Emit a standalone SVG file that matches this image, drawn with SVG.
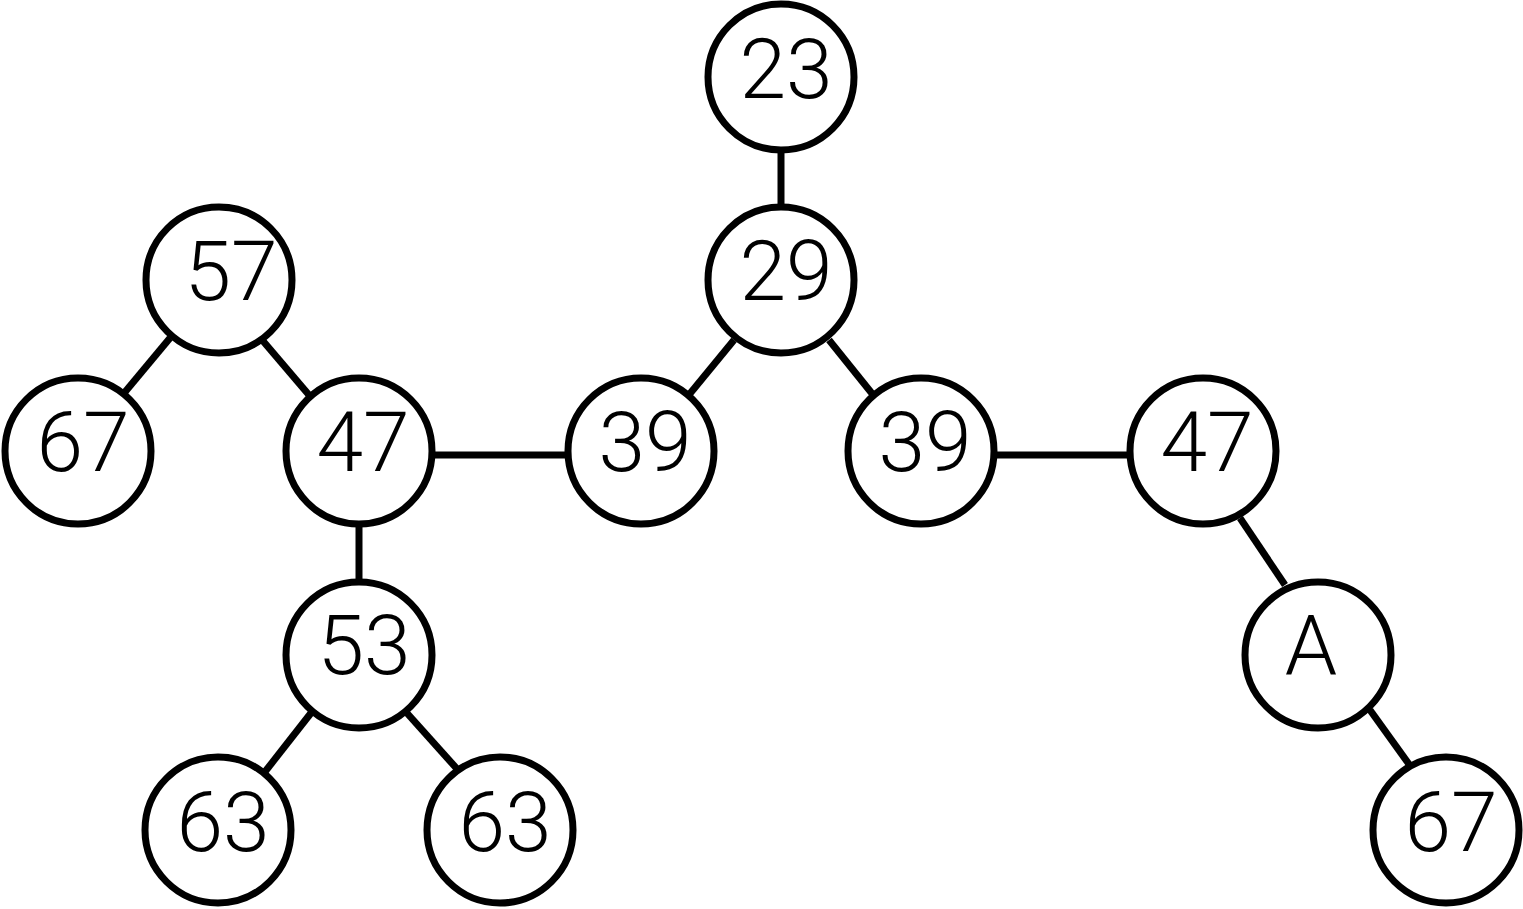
<svg xmlns="http://www.w3.org/2000/svg" width="1523" height="909" viewBox="0 0 1523 909">
<style>
.n circle{fill:#fff;stroke:#000;stroke-width:7}
.n text{font-family:Roboto,"Liberation Sans",sans-serif;font-weight:300;font-size:84px;text-anchor:middle;fill:#000}
#edges line{stroke:#000;stroke-width:7}
</style>
<rect width="1523" height="909" fill="#fff"/>
<g id="edges">
<line x1="781" y1="152" x2="781" y2="205"/>
<line x1="170" y1="338" x2="125" y2="392"/>
<line x1="263" y1="341" x2="309" y2="395"/>
<line x1="435" y1="455" x2="566" y2="455"/>
<line x1="359" y1="526" x2="359" y2="580"/>
<line x1="734" y1="340" x2="688" y2="396"/>
<line x1="829" y1="340" x2="874" y2="396"/>
<line x1="997" y1="455" x2="1129" y2="455"/>
<line x1="1240" y1="518" x2="1285" y2="585"/>
<line x1="311" y1="713" x2="264" y2="773"/>
<line x1="406" y1="712" x2="458" y2="770"/>
<line x1="1370" y1="710" x2="1411" y2="767"/>
</g>
<g id="n23" class="n"><circle cx="781" cy="77" r="73"/><text x="786" y="98">23</text></g>
<g id="n29" class="n"><circle cx="781" cy="280" r="73"/><text x="786" y="300">29</text></g>
<g id="n57" class="n"><circle cx="219" cy="280" r="73"/><text x="231" y="300">57</text></g>
<g id="n67a" class="n"><circle cx="78" cy="451" r="73"/><text x="83" y="471">67</text></g>
<g id="n47a" class="n"><circle cx="359" cy="451" r="73"/><text x="363" y="471">47</text></g>
<g id="n39a" class="n"><circle cx="641" cy="451" r="73"/><text x="645" y="471">39</text></g>
<g id="n39b" class="n"><circle cx="921" cy="451" r="73"/><text x="925" y="471">39</text></g>
<g id="n47b" class="n"><circle cx="1203" cy="451" r="73"/><text x="1207" y="471">47</text></g>
<g id="n53" class="n"><circle cx="359" cy="655" r="73"/><text x="364" y="674">53</text></g>
<g id="n63a" class="n"><circle cx="218" cy="830" r="73"/><text x="223" y="851">63</text></g>
<g id="n63b" class="n"><circle cx="500" cy="830" r="73"/><text x="505" y="851">63</text></g>
<g id="nA" class="n"><circle cx="1318" cy="655" r="73"/><text x="1311" y="675">A</text></g>
<g id="n67b" class="n"><circle cx="1446" cy="830" r="73"/><text x="1451" y="851">67</text></g>
</svg>
